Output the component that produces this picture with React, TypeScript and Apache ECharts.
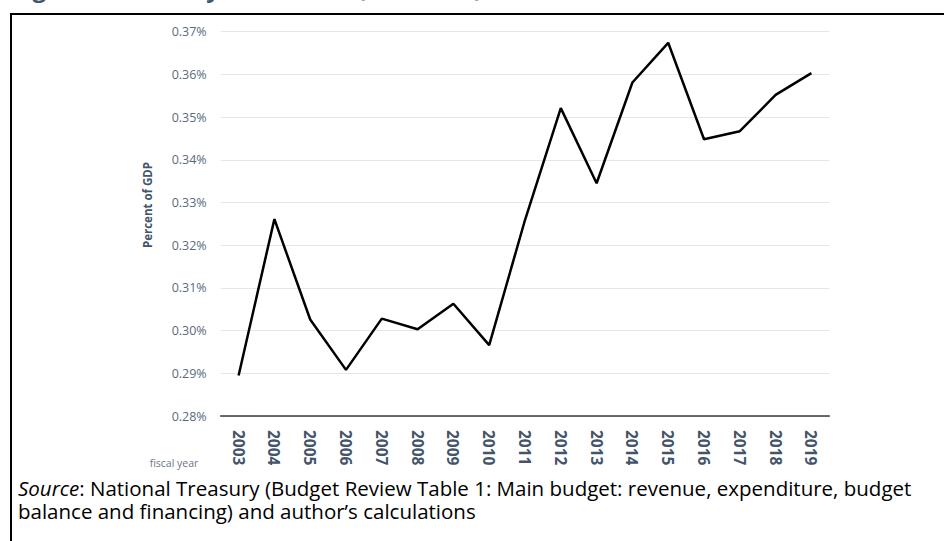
import React, { useEffect, useRef } from "react";
import * as echarts from "echarts";

const years: string[] = ["2003","2004","2005","2006","2007","2008","2009","2010","2011","2012","2013","2014","2015","2016","2017","2018","2019"];
const percentOfGdp: number[] = [0.2895,0.3261,0.3026,0.2908,0.3028,0.3003,0.3063,0.2966,0.3259,0.3521,0.3345,0.3581,0.3674,0.3448,0.3467,0.3552,0.3603];
const yTicks = { min: 0.28, max: 0.37, step: 0.01 };

const titleText = "Figure 4: Ministry total costs (% of GDP)";
const sourceLine1Rest = ": National Treasury (Budget Review Table 1: Main budget: revenue, expenditure, budget";
const sourceLine2 = "balance and financing) and author\u2019s calculations";

export default function App() {
  const ref = useRef<HTMLDivElement>(null);
  useEffect(() => {
    if (!ref.current) return;
    const chart = echarts.init(ref.current, null, { renderer: "svg" });
    const font = "'Open Sans', 'Noto Sans', sans-serif";
    chart.setOption({
      animation: false,
      backgroundColor: "#ffffff",
      textStyle: { fontFamily: font },
      grid: { left: 220.7, right: 114.7, top: 31.7, bottom: 125, containLabel: false },
      xAxis: {
        type: "category",
        data: years,
        boundaryGap: true,
        axisLine: { show: true, lineStyle: { color: "#3a3a3a", width: 1.5 } },
        axisTick: { show: false },
        axisLabel: {
          rotate: -90,
          margin: 14,
          color: "#44546a",
          fontWeight: "bold",
          fontSize: 15.5,
          fontFamily: font,
        },
        splitLine: { show: false },
      },
      yAxis: {
        type: "value",
        min: yTicks.min,
        max: yTicks.max,
        interval: yTicks.step,
        axisLine: { show: false },
        axisTick: { show: false },
        axisLabel: {
          margin: 14,
          color: "#5b6a7e",
          fontSize: 12.5,
          fontFamily: font,
          formatter: (v: number) => v.toFixed(2) + "%",
        },
        splitLine: { show: true, lineStyle: { color: "#e4e6ea", width: 1 } },
      },
      series: [
        {
          type: "line",
          data: percentOfGdp,
          symbol: "none",
          lineStyle: { color: "#000000", width: 2.5 },
          itemStyle: { color: "#000000" },
        },
      ],
      graphic: [
        {
          type: "text",
          left: 12,
          top: -25,
          style: {
            text: titleText,
            fontSize: 24,
            fontWeight: "bold",
            fill: "#44546a",
            fontFamily: font,
          },
        },
        {
          type: "rect",
          shape: { x: 11, y: 14, width: 960, height: 560 },
          style: { fill: "none", stroke: "#000000", lineWidth: 2 },
          silent: true,
        },
        {
          type: "text",
          x: 147,
          y: 205,
          rotation: Math.PI / 2,
          style: {
            text: "Percent of GDP",
            fontSize: 11.5,
            fontWeight: "bold",
            fill: "#44546a",
            fontFamily: font,
            align: "center",
            verticalAlign: "middle",
          },
        },
        {
          type: "text",
          x: 174,
          y: 463,
          style: {
            text: "fiscal year",
            fontSize: 10.5,
            fill: "#6b7789",
            fontFamily: font,
            align: "center",
            verticalAlign: "middle",
          },
        },
        {
          type: "text",
          x: 18,
          y: 477,
          style: {
            text: "{i|Source}{n|" + sourceLine1Rest + "}\n{n|" + sourceLine2 + "}",
            verticalAlign: "top",
            rich: {
              i: { fontSize: 20.5, fontStyle: "italic", fill: "#000000", fontFamily: font, lineHeight: 22.5 },
              n: { fontSize: 20.5, fill: "#000000", fontFamily: font, lineHeight: 22.5 },
            },
          },
        },
      ],
    });
    return () => chart.dispose();
  }, []);
  return (
    <div
      ref={ref}
      style={{ position: "fixed", left: 0, top: 0, width: 944, height: 541 }}
    />
  );
}
